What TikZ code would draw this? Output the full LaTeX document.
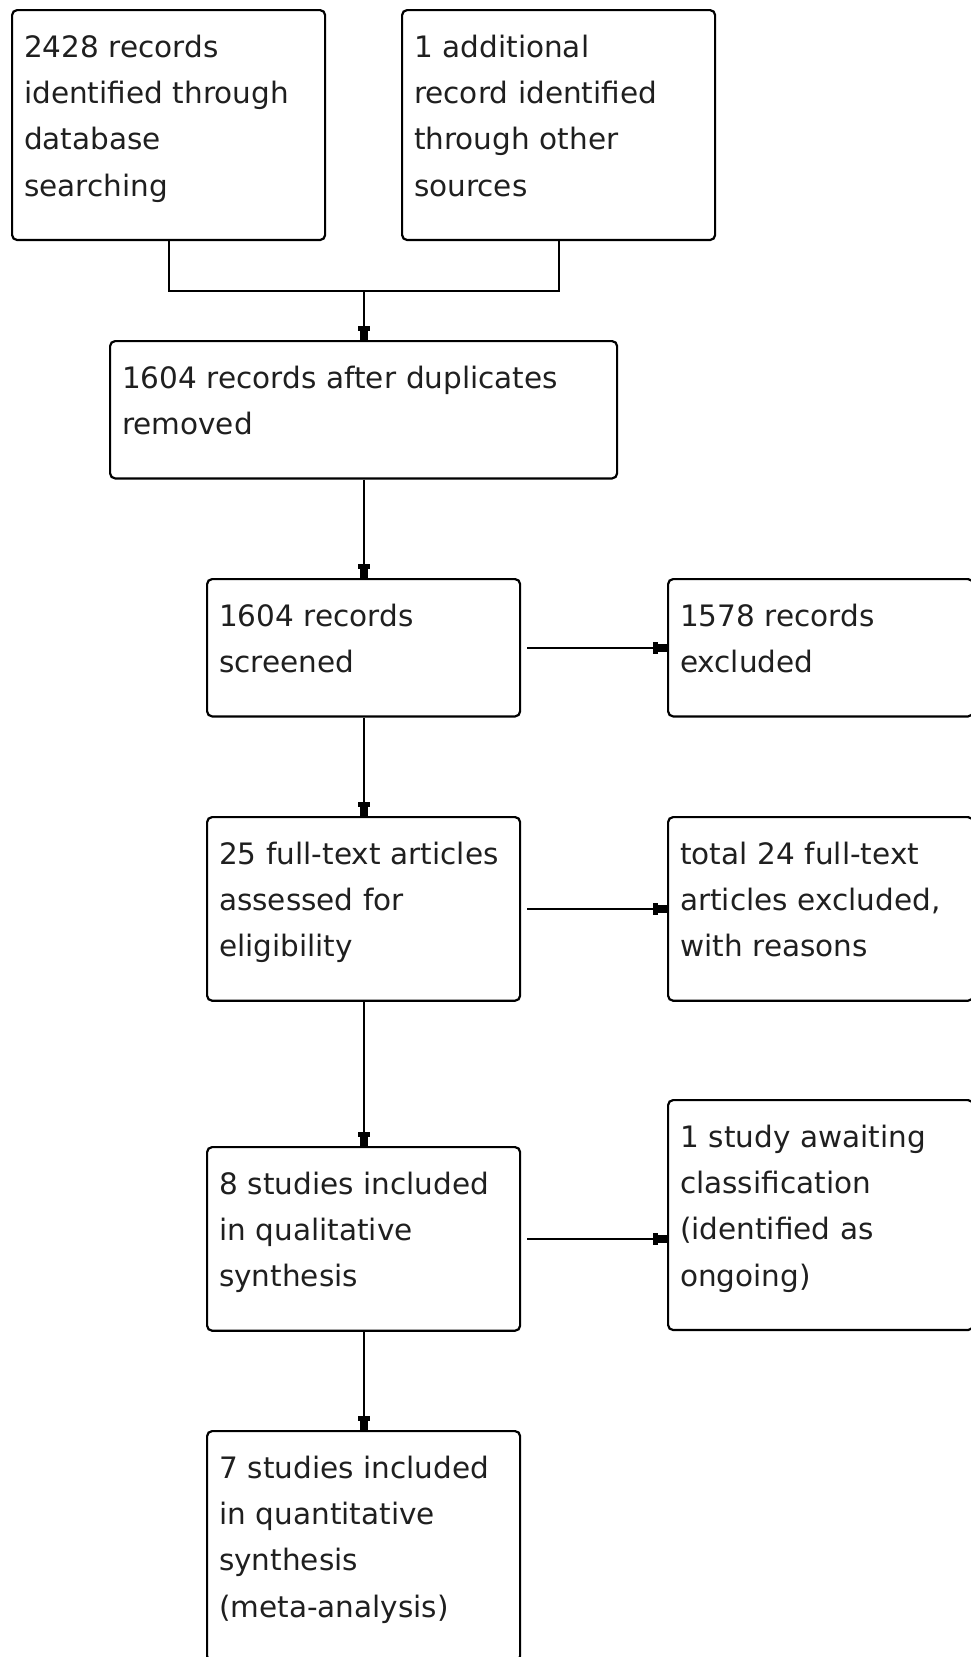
\documentclass[tikz,border=0pt]{standalone}
\usepackage{fontspec}
\setmainfont{DejaVu Sans}
\usetikzlibrary{arrows.meta}

\begin{document}
\begin{tikzpicture}[x=1pt,y=-1pt,
		box/.style={draw, line width=2.2pt, rounded corners=5pt, anchor=north west,
			inner xsep=12pt, inner ysep=0pt, align=left, text=black!88,
			font=\fontsize{29.5pt}{46.3pt}\selectfont,
			execute at begin node={\rule{0pt}{47pt}},
			execute at end node={\rule[-44pt]{0pt}{44pt}}},
		narrowbox/.style={box, text width=289pt},
		widebox/.style={box, text width=483pt},
		sidebox/.style={box, text width=281pt},
		flow/.style={line width=2.2pt, -{Rectangle[length=5pt,width=12pt,sep=0pt]Rectangle[length=9pt,width=8pt]}},
		joint/.style={line width=2.2pt}]
	
	\useasboundingbox (0,0) rectangle (970,1657);
	
	\node[narrowbox] (Database) at (11,9) {2428 records\\identified through\\database\\searching};
	\node[narrowbox] (Other) at (401,9) {1 additional\\record identified\\through other\\sources};
	
	\node[widebox] (Dupes) at (109,340) {1604 records after duplicates\\removed};
	\path (Dupes.north) ++(0,-49) coordinate (merge);
	\draw[joint] (Database.south) |- (merge) -| (Other.south);
	\draw[flow] (merge) -- (Dupes.north);
	
	\node[narrowbox] (Screened) at (206,578) {1604 records\\screened};
	\node[sidebox] (Excluded) at (667,578) {1578 records\\excluded};
	\draw[flow] (Dupes.south) -- (Screened.north);
	\draw[flow, shorten <=6pt] (Screened.east) -- (Screened.east -| Excluded.west);
	
	\node[narrowbox] (Fulltext) at (206,816) {25 full-text articles\\assessed for\\eligibility};
	\node[sidebox] (FtExcl) at (667,816) {total 24 full-text\\articles excluded,\\with reasons};
	\draw[flow] (Screened.south) -- (Fulltext.north);
	\draw[flow, shorten <=6pt] (Fulltext.east) -- (Fulltext.east -| FtExcl.west);
	
	\node[narrowbox] (Qual) at (206,1146) {8 studies included\\in qualitative\\synthesis};
	\node[sidebox] (Awaiting) at (667,1099) {1 study awaiting\\classification\\(identified as\\ongoing)};
	\draw[flow] (Fulltext.south) -- (Qual.north);
	\draw[flow, shorten <=6pt] (Qual.east) -- (Qual.east -| Awaiting.west);
	
	\node[narrowbox] (Quant) at (206,1430) {7 studies included\\in quantitative\\synthesis\\(meta-analysis)};
	\draw[flow] (Qual.south) -- (Quant.north);
	
\end{tikzpicture}
\end{document}
